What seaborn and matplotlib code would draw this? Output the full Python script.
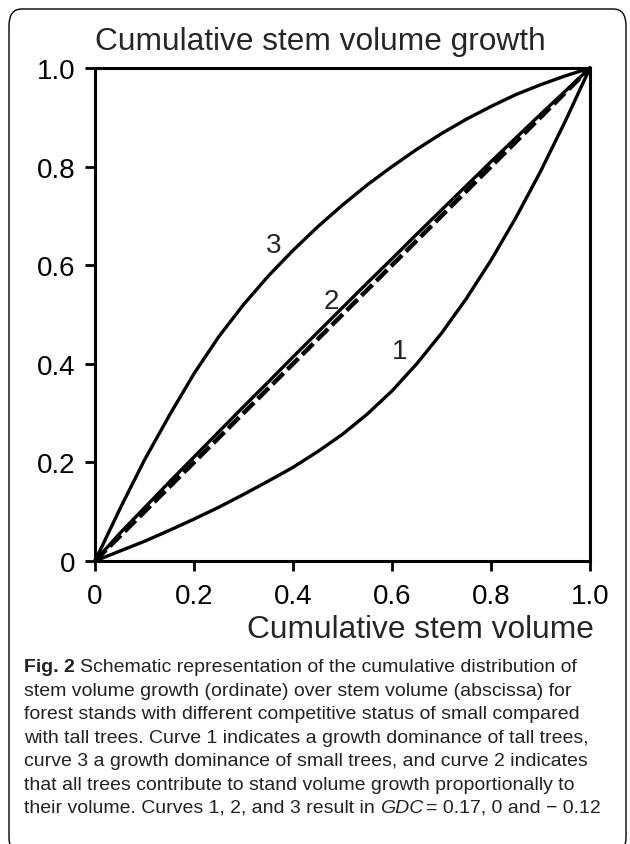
import numpy as np
import pandas as pd
import matplotlib
matplotlib.use("Agg")
import matplotlib.pyplot as plt
from matplotlib.patches import FancyBboxPatch
import seaborn as sns

# values
share_volume = [0, 0.05, 0.1, 0.15, 0.2, 0.25, 0.3, 0.35, 0.4, 0.45, 0.5,
                0.55, 0.6, 0.65, 0.7, 0.75, 0.8, 0.85, 0.9, 0.95, 1.0]
curve1 = [0, 0.02, 0.04, 0.062, 0.085, 0.109, 0.135, 0.162, 0.19, 0.222, 0.257,
          0.298, 0.345, 0.40, 0.462, 0.532, 0.61, 0.696, 0.79, 0.892, 1.0]
curve2 = [0, 0.056, 0.108, 0.16, 0.211, 0.262, 0.313, 0.363, 0.414, 0.464, 0.514,
          0.564, 0.613, 0.663, 0.712, 0.761, 0.81, 0.858, 0.906, 0.953, 1.0]
curve3 = [0, 0.105, 0.205, 0.295, 0.38, 0.455, 0.52, 0.578, 0.63, 0.678, 0.722,
          0.763, 0.80, 0.835, 0.867, 0.896, 0.922, 0.946, 0.966, 0.984, 1.0]
diagonal = [0, 1.0]
ticks = [0, 0.2, 0.4, 0.6, 0.8, 1.0]
tick_labels = ["0", "0.2", "0.4", "0.6", "0.8", "1.0"]
curve_labels = [("1", 0.615, 0.425), ("2", 0.478, 0.527), ("3", 0.36, 0.64)]

caption_lines = [
    "Schematic representation of the cumulative distribution of",
    "stem volume growth (ordinate) over stem volume (abscissa) for",
    "forest stands with different competitive status of small compared",
    "with tall trees. Curve 1 indicates a growth dominance of tall trees,",
    "curve 3 a growth dominance of small trees, and curve 2 indicates",
    "that all trees contribute to stand volume growth proportionally to",
    "their volume. Curves 1, 2, and 3 result in ",
]

df = pd.DataFrame({"x": share_volume, "c1": curve1, "c2": curve2, "c3": curve3})

sns.set_style("white")
plt.rcParams["font.family"] = ["Liberation Sans", "DejaVu Sans"]

W, H = 630, 845
fig = plt.figure(figsize=(W / 100, H / 100), dpi=100)
ax = fig.add_axes([95 / W, 1 - 562 / H, 495 / W, 493 / H])

lw = 2.4
for col in ["c1", "c2", "c3"]:
    sns.lineplot(data=df, x="x", y=col, ax=ax, color="black", linewidth=lw,
                 clip_on=False)
sns.lineplot(x=diagonal, y=diagonal, ax=ax, color="black", linewidth=3.2,
             linestyle=(0, (3.5, 1.2)), clip_on=False)

for txt, x, y in curve_labels:
    ax.text(x, y, txt, fontsize=20, ha="center", va="center")

ax.set_xlim(0, 1)
ax.set_ylim(0, 1)
ax.set_xticks(ticks)
ax.set_xticklabels(tick_labels)
ax.set_yticks(ticks)
ax.set_yticklabels(tick_labels)
ax.set_xlabel("")
ax.set_ylabel("")
ax.tick_params(axis="both", direction="out", length=7, width=2, labelsize=20,
               color="black", labelcolor="black")
ax.tick_params(axis="y", left=True, pad=7)
ax.tick_params(axis="x", bottom=True, pad=9)
for sp in ax.spines.values():
    sp.set_visible(True)
    sp.set_linewidth(2.2)
    sp.set_color("black")

fig.text(95 / W, 1 - 50 / H, "Cumulative stem volume growth", fontsize=22.8,
         ha="left", va="baseline")
fig.text(594 / W, 1 - 638 / H, "Cumulative stem volume", fontsize=22.8,
         ha="right", va="baseline")

# rounded frame round the figure
frame = FancyBboxPatch((9 / W, -10 / H), 617 / W, H / H,
                       boxstyle="round,pad=0,rounding_size=0.02",
                       transform=fig.transFigure, fill=False,
                       edgecolor="black", linewidth=1.0)
fig.patches.append(frame)

# caption
cap_font = ["Liberation Sans Narrow", "Liberation Sans", "DejaVu Sans"]
cap_size = 14.0
x0 = 24 / W
baselines = [672, 696, 719, 743, 766, 790, 813]
renderer = fig.canvas.get_renderer()
inv = fig.transFigure.inverted()


def put(x, y, s, **kw):
    t = fig.text(x, y, s, fontsize=cap_size, family=cap_font, ha="left",
                 va="baseline", color="#222222", **kw)
    bb = t.get_window_extent(renderer=renderer)
    return inv.transform((bb.x1, bb.y0))[0]


for i, (line, b) in enumerate(zip(caption_lines, baselines)):
    y = 1 - b / H
    x = x0
    if i == 0:
        x = put(x, y, "Fig. 2", weight="bold") + 5 / W
    x = put(x, y, line)
    if i == len(caption_lines) - 1:
        x = put(x, y, "GDC", style="italic") + 2 / W
        put(x, y, "= 0.17, 0 and \u2212 0.12")

fig.savefig("out.png", dpi=100)
